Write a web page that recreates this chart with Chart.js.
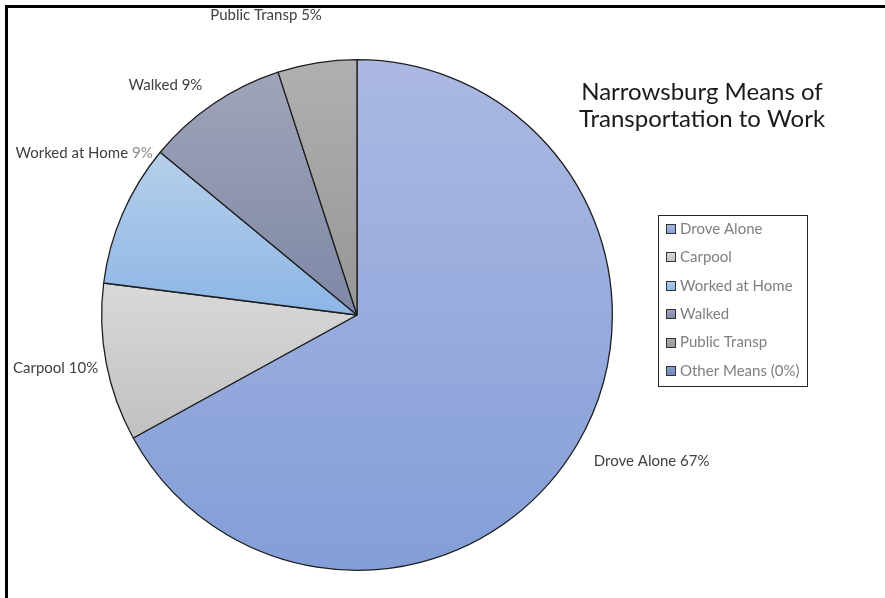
<!DOCTYPE html>
<html>
<head>
<meta charset="utf-8">
<script src="https://cdn.jsdelivr.net/npm/chart.js@4.4.0/dist/chart.umd.min.js"></script>
<style>
  html, body { margin: 0; padding: 0; background: #fff; }
  canvas { display: block; }
</style>
</head>
<body>
<canvas id="grafico" width="885" height="598"></canvas>
<script>
// ===== DATA =====
const categorias = ["Drove Alone", "Carpool", "Worked at Home", "Walked", "Public Transp", "Other Means"];
const percentuais = [67, 10, 9, 9, 5, 0];
const legendaTextos = ["Drove Alone", "Carpool", "Worked at Home", "Walked", "Public Transp", "Other Means (0%)"];
const titulo = ["Narrowsburg Means of", "Transportation to Work"];

// ===== STYLE =====
const FONTE = "Lato, 'Open Sans', sans-serif";
// top / bottom colour of each slice's vertical gradient
const coresTopo = ["#abb9e2", "#d9d9d9", "#b6cfea", "#a0a4ba", "#b0b0b0", "#8aa0cc"];
const coresBase = ["#849ed8", "#c0c0c0", "#8cb6e6", "#7e87a6", "#969696", "#7088b8"];
// where each data label sits relative to the slice's outer edge
const rotulosPos = [
  { dx: 17, dy: 16, align: "left" },
  { dx: -8, dy: 5, align: "right" },
  { dx: 30, dy: -60, align: "right" },
  { dx: -48, dy: -19, align: "center" },
  { dx: -51, dy: -48, align: "center" },
  null
];

// vertical extent of slice i, worked out from the values and the chart area
function extensaoY(area, i) {
  const total = percentuais.reduce((a, b) => a + b, 0);
  const cy = (area.top + area.bottom) / 2;
  const r = Math.min(area.right - area.left, area.bottom - area.top) / 2;
  let ini = 0;
  for (let k = 0; k < i; k++) ini += percentuais[k];
  const a0 = ini / total * 2 * Math.PI;
  const a1 = (ini + percentuais[i]) / total * 2 * Math.PI;
  const ys = [cy, cy - r * Math.cos(a0), cy - r * Math.cos(a1)];
  if (a0 <= 0 && a1 >= 0) ys.push(cy - r);
  if (a0 <= Math.PI && a1 >= Math.PI) ys.push(cy + r);
  return [Math.min(...ys), Math.max(...ys)];
}

function gradiente(ctx) {
  const chart = ctx.chart;
  const area = chart.chartArea;
  const i = ctx.dataIndex;
  if (!area) return coresBase[i];
  let [y0, y1] = extensaoY(area, i);
  if (y1 - y0 < 1) y1 = y0 + 1;
  const g = chart.ctx.createLinearGradient(0, y0, 0, y1);
  g.addColorStop(0, coresTopo[i]);
  g.addColorStop(1, coresBase[i]);
  return g;
}

// ===== PLUGIN: frame, title, labels, legend =====
const decoracao = {
  id: "decoracao",
  beforeDraw(chart) {
    const c = chart.ctx;
    c.save();
    c.fillStyle = "#fff";
    c.fillRect(0, 0, chart.width, chart.height);
    c.fillStyle = "#000";
    c.fillRect(5, 5, chart.width - 5, 3);
    c.fillRect(5, 5, 3, chart.height - 5);
    c.restore();
  },
  afterDatasetsDraw(chart) {
    const c = chart.ctx;
    const meta = chart.getDatasetMeta(0);
    c.save();

    // data labels
    c.font = "15px " + FONTE;
    c.textBaseline = "middle";
    meta.data.forEach((arc, i) => {
      const p = rotulosPos[i];
      if (!p || !percentuais[i]) return;
      const { x, y, startAngle, endAngle, outerRadius } = arc.getProps(["x", "y", "startAngle", "endAngle", "outerRadius"], true);
      const meio = (startAngle + endAngle) / 2;
      const bx = x + Math.cos(meio) * outerRadius + p.dx;
      const by = y + Math.sin(meio) * outerRadius + p.dy;
      const nome = categorias[i] + " ";
      const valor = percentuais[i] + "%";
      const largura = c.measureText(nome + valor).width;
      let x0 = bx;
      if (p.align === "right") x0 = bx - largura;
      else if (p.align === "center") x0 = bx - largura / 2;
      c.textAlign = "left";
      c.fillStyle = "#404040";
      c.fillText(nome, x0, by);
      // the home-workers' value is set in a lighter grey
      c.fillStyle = i === 2 ? "#8c8c8c" : "#404040";
      c.fillText(valor, x0 + c.measureText(nome).width, by);
    });

    // title
    c.font = "24px " + FONTE;
    c.fillStyle = "#1a1a1a";
    c.textAlign = "center";
    c.fillText(titulo[0], 702, 92);
    c.fillText(titulo[1], 702, 119);

    // legend
    const lx = 658, ly = 215, lw = 149, lh = 171;
    c.strokeStyle = "#262626";
    c.lineWidth = 1;
    c.strokeRect(lx + 0.5, ly + 0.5, lw, lh);
    c.font = "15px " + FONTE;
    c.textAlign = "left";
    legendaTextos.forEach((txt, i) => {
      const yy = ly + 14 + i * 28.4;
      const g = c.createLinearGradient(0, yy - 5, 0, yy + 5);
      g.addColorStop(0, coresTopo[i]);
      g.addColorStop(1, coresBase[i]);
      c.fillStyle = g;
      c.fillRect(666, Math.round(yy) - 5, 10, 10);
      c.strokeStyle = "#333";
      c.strokeRect(666.5, Math.round(yy) - 4.5, 9, 9);
      c.fillStyle = "#7f7f7f";
      c.fillText(txt, 680, yy);
    });
    c.restore();
  }
};

// ===== CHART =====
new Chart(document.getElementById("grafico"), {
  type: "pie",
  data: {
    labels: categorias,
    datasets: [{
      data: percentuais,
      backgroundColor: gradiente,
      borderColor: "#1e1e1e",
      borderWidth: 1.3
    }]
  },
  options: {
    responsive: false,
    animation: false,
    layout: { padding: { left: 101, top: 59, right: 272, bottom: 27 } },
    plugins: {
      legend: { display: false },
      tooltip: { enabled: false },
      title: { display: false }
    }
  },
  plugins: [decoracao]
});
</script>
</body>
</html>
